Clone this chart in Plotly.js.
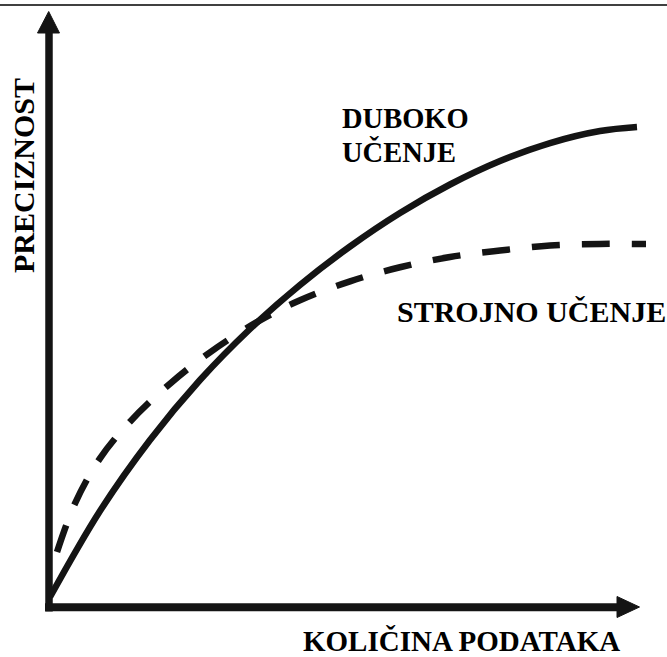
<!DOCTYPE html>
<html>
<head>
<meta charset="utf-8">
<script src="https://cdn.plot.ly/plotly-3.0.1.min.js"></script>
<style>
html,body{margin:0;padding:0;background:#fff;}
#chart{width:667px;height:657px;}
</style>
</head>
<body>
<div id="chart"></div>
<script>
// Conceptual data: amount of data (0-100) vs. accuracy (0-100)
const deepX = [0.17, 8.64, 17.12, 25.59, 34.07, 42.54, 51.02, 59.49, 67.97, 76.44, 84.92, 93.39, 99.66];
const deepY = [1.69, 16.27, 28.31, 38.47, 47.12, 54.58, 61.10, 66.78, 71.61, 75.59, 78.64, 80.68, 81.36];
const mlX = [1.36, 4.41, 8.64, 13.73, 20.51, 27.29, 35.76, 42.54, 51.02, 59.49, 67.97, 76.44, 84.92, 93.39, 101.19];
const mlY = [9.32, 17.56, 25.19, 31.41, 37.85, 43.17, 48.59, 51.98, 55.20, 57.58, 59.32, 60.42, 61.27, 61.53, 61.53];
const labelDeep1 = "DUBOKO";
const labelDeep2 = "UČENJE";
const labelMl = "STROJNO UČENJE";
const xTitle = "KOLIČINA PODATAKA";
const yTitle = "PRECIZNOST";

// layout helpers (pixel -> axis units), the plot area covers the whole figure
const W = 667, H = 657, OX = 49, OY = 607, S = 5.9;
const px = v => (v - OX) / S;
const py = v => (OY - v) / S;
const ink = '#141414';
const fontFam = 'Liberation Serif, Times New Roman, serif';

const traces = [
  {x: deepX, y: deepY, mode: 'lines', hoverinfo: 'skip',
   line: {color: ink, width: 6.5, shape: 'spline', smoothing: 1}},
  {x: mlX, y: mlY, mode: 'lines', hoverinfo: 'skip',
   line: {color: ink, width: 6.5, shape: 'spline', smoothing: 1, dash: '28px,22px'}}
];

const shapes = [
  // top border
  {type: 'line', xref: 'paper', yref: 'y', x0: 0, x1: 1, y0: py(5), y1: py(5), line: {color: '#000', width: 1.5}},
  // y axis shaft
  {type: 'line', x0: px(49), x1: px(49), y0: py(611.5), y1: py(31), line: {color: ink, width: 7.5}},
  // x axis shaft
  {type: 'line', x0: px(45), x1: px(619), y0: py(607.2), y1: py(607.2), line: {color: ink, width: 8}},
  // y arrow head
  {type: 'path', path: `M ${px(37.5)} ${py(33)} L ${px(48.7)} ${py(11.5)} L ${px(59.5)} ${py(33)} Z`,
   fillcolor: ink, line: {color: ink, width: 1}},
  // x arrow head
  {type: 'path', path: `M ${px(617)} ${py(596.5)} L ${px(639.5)} ${py(607)} L ${px(617)} ${py(617.5)} Z`,
   fillcolor: ink, line: {color: ink, width: 1}}
];

function lab(text, x, y, size, opts) {
  return Object.assign({
    text: '<b>' + text + '</b>', x: px(x), y: py(y), xref: 'x', yref: 'y',
    showarrow: false, xanchor: 'left', yanchor: 'middle',
    font: {family: fontFam, size: size, color: '#000'}
  }, opts || {});
}

const annotations = [
  lab(labelDeep1, 340, 118, 28.5),
  lab(labelDeep2, 340, 152, 28.5),
  lab(labelMl, 395, 311, 30),
  lab(xTitle, 301, 641, 29),
  lab(yTitle, 23.5, 175.5, 30, {xanchor: 'center', textangle: -90})
];

const layout = {
  width: W, height: H,
  margin: {l: 0, r: 0, t: 0, b: 0, pad: 0},
  paper_bgcolor: '#fff', plot_bgcolor: '#fff',
  showlegend: false,
  xaxis: {range: [px(0), px(W)], visible: false, fixedrange: true},
  yaxis: {range: [py(H), py(0)], visible: false, fixedrange: true},
  shapes: shapes,
  annotations: annotations
};

Plotly.newPlot('chart', traces, layout, {displayModeBar: false, staticPlot: true});
</script>
</body>
</html>
